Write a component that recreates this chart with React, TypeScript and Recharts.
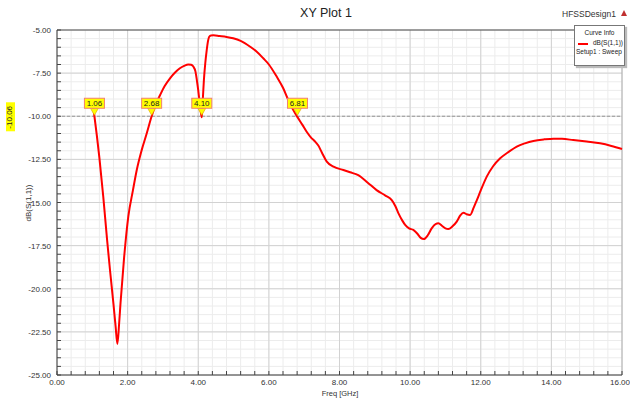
import React from 'react';
import { LineChart, Line, XAxis, YAxis, CartesianGrid, ReferenceLine, ReferenceDot } from 'recharts';

const freqGHz = [
  1.0, 1.06, 1.2, 1.31, 1.42, 1.5, 1.6, 1.66, 1.71, 1.76, 1.8, 1.9, 2.02, 2.15, 2.26, 2.4, 2.54, 2.68, 2.8, 2.92,
  3.05, 3.2, 3.35, 3.48, 3.6, 3.72, 3.8, 3.86, 3.92, 3.96, 4.0, 4.03, 4.07, 4.1, 4.13, 4.16, 4.2, 4.24, 4.28, 4.31,
  4.36, 4.43, 4.6, 4.8, 4.99, 5.2, 5.47, 5.65, 5.84, 6.0, 6.22, 6.4, 6.55, 6.68, 6.81, 6.95, 7.07, 7.2, 7.3, 7.4,
  7.5, 7.64, 7.83, 8.11, 8.3, 8.53, 8.8, 9.05, 9.3, 9.48, 9.58, 9.67, 9.78, 9.86, 9.97, 10.09, 10.2, 10.3, 10.39, 10.5,
  10.61, 10.72, 10.8, 10.9, 11.0, 11.08, 11.2, 11.32, 11.42, 11.51, 11.6, 11.7, 11.8, 11.89, 12.0, 12.17, 12.35, 12.55, 12.8, 13.02,
  13.25, 13.49, 13.8, 14.06, 14.3, 14.62, 15.0, 15.38, 15.7, 16.0,
];
const s11dB = [
  -9.1, -10.0, -12.4, -14.66, -17.2, -18.9, -20.9, -22.2, -23.2, -22.0, -20.8, -18.2, -15.8, -14.3, -13.1, -11.95, -11.0, -10.0, -9.3, -8.77,
  -8.25, -7.8, -7.45, -7.22, -7.08, -7.0, -7.02, -7.12, -7.4, -7.9, -8.5, -9.06, -9.7, -10.06, -9.0, -7.9, -6.9, -6.16, -5.6, -5.39,
  -5.32, -5.31, -5.35, -5.4, -5.48, -5.63, -5.97, -6.25, -6.64, -7.0, -7.7, -8.35, -9.06, -9.6, -10.05, -10.5, -10.9, -11.25, -11.45, -11.7,
  -12.1, -12.63, -12.92, -13.12, -13.25, -13.41, -13.85, -14.28, -14.6, -14.86, -15.2, -15.63, -16.05, -16.3, -16.5, -16.59, -16.8, -17.05, -17.12, -16.9,
  -16.5, -16.25, -16.21, -16.35, -16.5, -16.54, -16.38, -16.11, -15.75, -15.59, -15.68, -15.72, -15.3, -14.86, -14.3, -13.5, -12.9, -12.44, -12.05, -11.76,
  -11.57, -11.43, -11.34, -11.3, -11.31, -11.38, -11.47, -11.57, -11.72, -11.9,
];

const xTicks = Array.from({ length: 41 }, (_, i) => +(i * 0.4).toFixed(1));
const yTicks = Array.from({ length: 41 }, (_, i) => +(-25 + i * 0.5).toFixed(1));
const xMajor = [0, 2, 4, 6, 8, 10, 12, 14, 16];
const yMajor = [-25, -22.5, -20, -17.5, -15, -12.5, -10, -7.5, -5];
const markerFreqs = [1.06, 2.68, 4.1, 6.81];
const markerLabels = ['1.06', '2.68', '4.10', '6.81'];
const markerLevel = -10;
const yMarkerValue = -10.06;
const yMarkerLabel = '-10.06';

const data = freqGHz.map((f, i) => ({ f, db: s11dB[i] }));

const FONT = '"Liberation Sans", Arial, sans-serif';

const isMajorX = (v: number) => xMajor.some((m) => Math.abs(m - v) < 1e-6);
const isMajorY = (v: number) => yMajor.some((m) => Math.abs(m - v) < 1e-6);

const MarkerShape = (props: any) => {
  const { cx, cy, label } = props;
  return (
    <g>
      <polygon points={`${cx - 4},${cy - 8} ${cx + 4},${cy - 8} ${cx},${cy - 1}`} fill="#ffff00" stroke="#e0a000" strokeWidth={0.6} />
      <rect x={cx - 10} y={cy - 18} width={20} height={10} fill="#ffff00" stroke="#f08070" strokeWidth={1} />
      <text x={cx} y={cy - 10.3} textAnchor="middle" fontSize={8} fill="#222" fontFamily={FONT}>
        {label}
      </text>
    </g>
  );
};

const YMarkerShape = (props: any) => {
  const { cx, cy } = props;
  const x = cx - 47;
  return (
    <g>
      <rect x={x - 4} y={cy - 15} width={9} height={29} fill="#ffff00" />
      <text x={x} y={cy} transform={`rotate(-90 ${x} ${cy})`} textAnchor="middle" dominantBaseline="central" fontSize={8} fill="#222" fontFamily={FONT}>
        {yMarkerLabel}
      </text>
    </g>
  );
};

const XTick = (props: any) => {
  const { x, y, payload } = props;
  const v = payload.value as number;
  const last = Math.abs(v - 16) < 1e-6;
  return (
    <g>
      <line x1={x} x2={x} y1={y} y2={y - 4} stroke="#444" strokeWidth={1} />
      {isMajorX(v) && (
        <text x={last ? x - 2 : x} y={y + 10} textAnchor="middle" fontSize={8} fill="#333" fontFamily={FONT}>
          {v.toFixed(2)}
        </text>
      )}
    </g>
  );
};

const YTick = (props: any) => {
  const { x, y, payload } = props;
  const v = payload.value as number;
  return (
    <g>
      <line x1={x} x2={x + 4} y1={y} y2={y} stroke="#444" strokeWidth={1} />
      {isMajorY(v) && (
        <text x={x - 6} y={y + 3} textAnchor="end" fontSize={8} fill="#333" fontFamily={FONT}>
          {v.toFixed(2)}
        </text>
      )}
    </g>
  );
};

export default function App() {
  return (
    <div style={{ position: 'absolute', left: 0, top: 0, width: 630, height: 399, background: '#fff', fontFamily: FONT }}>
      <LineChart width={630} height={399} data={data} margin={{ top: 30, right: 8, left: 0, bottom: 0 }}>
        <CartesianGrid stroke="#ececec" strokeWidth={1} />
        <XAxis
          dataKey="f"
          type="number"
          domain={[0, 16]}
          ticks={xTicks}
          interval={0}
          height={24}
          tickSize={0}
          tickMargin={0}
          tickLine={false}
          axisLine={{ stroke: '#333' }}
          tick={<XTick />}
        />
        <YAxis
          type="number"
          domain={[-25, -5]}
          ticks={yTicks}
          interval={0}
          width={57}
          tickSize={0}
          tickMargin={0}
          tickLine={false}
          axisLine={{ stroke: '#333' }}
          tick={<YTick />}
        />
        {xMajor.slice(1, -1).map((v) => (
          <ReferenceLine key={'xm' + v} x={v} stroke="#d2d2d2" strokeWidth={1} />
        ))}
        {yMajor.slice(1, -1).map((v) => (
          <ReferenceLine key={'ym' + v} y={v} stroke="#d2d2d2" strokeWidth={1} />
        ))}
        <ReferenceLine y={-5} stroke="#444" strokeWidth={1} />
        <ReferenceLine x={16} stroke="#aaa" strokeWidth={1} />
        <ReferenceLine y={markerLevel} stroke="#999" strokeDasharray="3 2" strokeWidth={1} />
        <Line type="monotone" dataKey="db" stroke="#ff0000" strokeWidth={2} dot={false} isAnimationActive={false} />
        {markerFreqs.map((f, i) => (
          <ReferenceDot
            key={'mk' + i}
            x={f}
            y={markerLevel}
            ifOverflow="visible"
            shape={(p: any) => <MarkerShape {...p} label={markerLabels[i]} />}
          />
        ))}
        <ReferenceDot x={0} y={yMarkerValue} ifOverflow="visible" shape={(p: any) => <YMarkerShape {...p} />} />
      </LineChart>

      <div style={{ position: 'absolute', left: 226, top: 6, width: 200, textAlign: 'center', fontSize: 12.5, color: '#222' }}>XY Plot 1</div>
      <div style={{ position: 'absolute', left: 562, top: 9, fontSize: 8.5, color: '#333' }}>HFSSDesign1</div>
      <div
        style={{
          position: 'absolute',
          left: 621,
          top: 10,
          width: 0,
          height: 0,
          borderLeft: '3px solid transparent',
          borderRight: '3px solid transparent',
          borderBottom: '6px solid #c03030',
        }}
      />
      <div
        style={{
          position: 'absolute',
          left: 574,
          top: 25,
          width: 49,
          height: 39,
          background: '#fff',
          border: '1px solid #777',
          boxShadow: '2px 2px 1px #bbb',
          fontSize: 6.5,
          color: '#222',
        }}
      >
        <div style={{ textAlign: 'center', marginTop: 3 }}>Curve Info</div>
        <div style={{ position: 'absolute', left: 3, top: 17, width: 10, height: 1.5, background: '#ff0000' }} />
        <div style={{ position: 'absolute', left: 18, top: 13, whiteSpace: 'nowrap' }}>dB(S(1,1))</div>
        <div style={{ position: 'absolute', left: 1, top: 22, whiteSpace: 'nowrap' }}>Setup1 : Sweep</div>
      </div>
      <div style={{ position: 'absolute', left: 290, top: 389, width: 100, textAlign: 'center', fontSize: 7.5, lineHeight: '9px', color: '#333' }}>Freq [GHz]</div>
      <div
        style={{
          position: 'absolute',
          left: 28,
          top: 203,
          transform: 'translate(-50%, -50%) rotate(-90deg)',
          fontSize: 8,
          color: '#333',
          whiteSpace: 'nowrap',
        }}
      >
        dB(S(1,1))
      </div>
    </div>
  );
}
